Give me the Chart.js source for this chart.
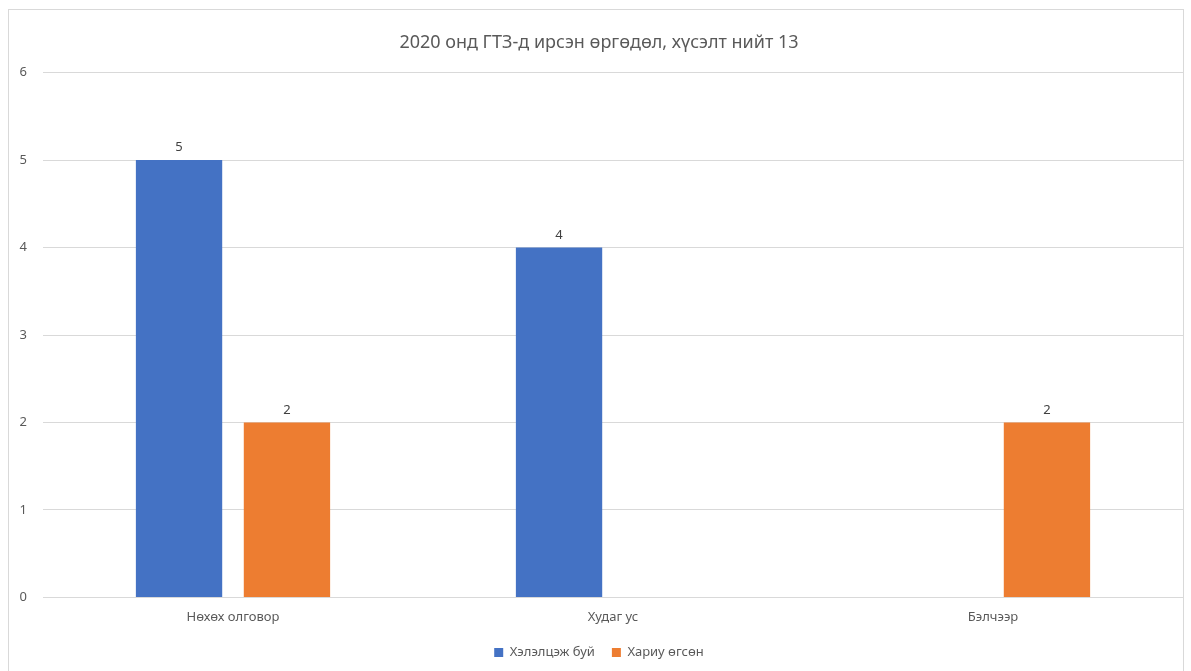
<!DOCTYPE html>
<html>
<head>
<meta charset="utf-8">
<script src="https://cdn.jsdelivr.net/npm/chart.js@4"></script>
<style>
	html, body { margin: 0; padding: 0; background: #fff; }
	#wrap { position: absolute; left: 8px; top: 9px; width: 1176px; height: 670px; border: 1px solid #d9d9d9; box-sizing: border-box; }
</style>
</head>
<body>
<div id="wrap"><canvas id="myChart"></canvas></div>
<script>
// chart data
const labels = ["Нөхөх олговор", "Худаг ус", "Бэлчээр"]
const seriesNames = ["Хэлэлцэж буй", "Хариу өгсөн"]
const discussing = [5, 4, null]
const answered = [2, null, 2]
const yTicks = [0, 1, 2, 3, 4, 5, 6]

// value labels above bars
const valueLabels = {
	id: "valueLabels",
	afterDatasetsDraw: chart => {
		const ctx = chart.ctx
		ctx.save()
		ctx.font = "13px 'Noto Sans', sans-serif"
		ctx.fillStyle = "#404040"
		ctx.textAlign = "center"
		ctx.textBaseline = "bottom"
		chart.data.datasets.forEach((ds, i) => {
			chart.getDatasetMeta(i).data.forEach((bar, j) => {
				if (ds.data[j] == null) return
				ctx.fillText(ds.data[j], bar.x, bar.y - 6)
			})
		})
		ctx.restore()
	},
}

const chart = document.querySelector("#myChart").getContext("2d")
const myChart = new Chart(chart, {
	type: "bar",
	data: {
		labels: labels,
		datasets: [
			{
				label: seriesNames[0],
				data: discussing,
				backgroundColor: "#4472c4",
			},
			{
				label: seriesNames[1],
				data: answered,
				backgroundColor: "#ed7d31",
			},
		],
	},
	options: {
		responsive: true,
		maintainAspectRatio: false,
		animation: false,
		layout: { padding: { left: 6, right: 0, top: 4, bottom: 9 } },
		datasets: { bar: { categoryPercentage: 0.568, barPercentage: 0.8 } },
		plugins: {
			title: {
				display: true,
				text: "2020 онд ГТЗ-д ирсэн өргөдөл, хүсэлт нийт 13",
				color: "#595959",
				font: { family: "'Noto Sans', sans-serif", size: 18, weight: "normal" },
				padding: { top: 18, bottom: 19 },
			},
			legend: {
				position: "bottom",
				labels: {
					color: "#595959",
					font: { family: "'Noto Sans', sans-serif", size: 13 },
					boxWidth: 9,
					boxHeight: 9,
					padding: 17,
				},
			},
			tooltip: { enabled: false },
		},
		scales: {
			x: {
				grid: { display: false },
				border: { color: "#d9d9d9" },
				ticks: { color: "#595959", font: { family: "'Noto Sans', sans-serif", size: 13 }, padding: 4 },
			},
			y: {
				min: 0,
				max: 6,
				afterBuildTicks: axis => { axis.ticks = yTicks.map(v => ({ value: v })) },
				afterFit: axis => { axis.width = 28 },
				grid: { color: "#d9d9d9", drawTicks: false },
				border: { display: false },
				ticks: { color: "#595959", font: { family: "'Noto Sans', sans-serif", size: 13 }, padding: 16 },
			},
		},
	},
	plugins: [valueLabels],
})
</script>
</body>
</html>
